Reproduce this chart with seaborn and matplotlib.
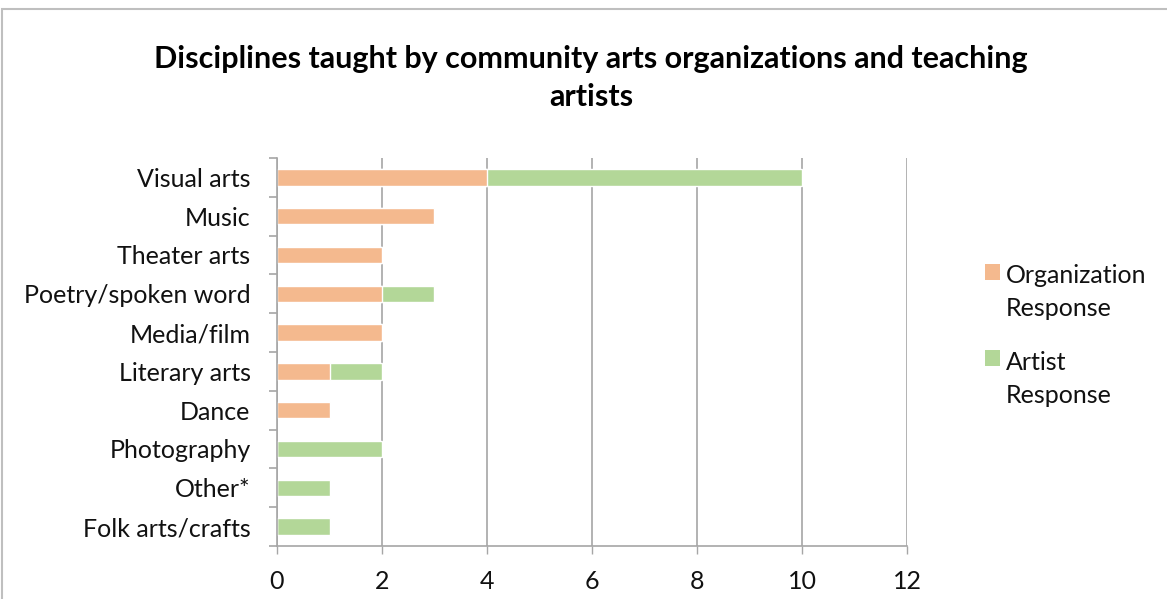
import matplotlib
matplotlib.use("Agg")
import matplotlib.pyplot as plt
import seaborn as sns
import pandas as pd
import numpy as np
from matplotlib.patches import Patch, Rectangle
from matplotlib.legend_handler import HandlerPatch

categories = ["Visual arts", "Music", "Theater arts", "Poetry/spoken word", "Media/film",
              "Literary arts", "Dance", "Photography", "Other*", "Folk arts/crafts"]
org_response = [4, 3, 2, 2, 2, 1, 1, 0, 0, 0]
artist_response = [6, 0, 0, 1, 0, 1, 0, 2, 1, 1]
x_ticks = [0, 2, 4, 6, 8, 10, 12]
title = "Disciplines taught by community arts organizations and teaching\nartists"

ORANGE = "#F4B98E"
GREEN = "#B3D798"
GRID = "#A6A6A6"
TXT = "#111111"

sns.set_theme(style="white")
plt.rcParams['font.family'] = ['Lato', 'DejaVu Sans']
plt.rcParams['text.color'] = TXT
plt.rcParams['xtick.color'] = TXT
plt.rcParams['ytick.color'] = TXT

df = pd.DataFrame({"cat": categories, "org": org_response, "artist": artist_response})
df["total"] = df["org"] + df["artist"]

fig = plt.figure(figsize=(11.67, 5.99), dpi=100)
ax = fig.add_axes([277/1167, 1-546/599, (907-277)/1167, (546-158)/599])

sns.barplot(data=df, x="total", y="cat", color=GREEN, saturation=1, width=0.42, ax=ax, orient="h")
sns.barplot(data=df, x="org", y="cat", color=ORANGE, saturation=1, width=0.42, ax=ax, orient="h")

ax.set_xlim(0, 12)
ax.set_ylim(len(categories) - 0.5, -0.5)
ax.set_xticks(x_ticks)
ax.set_xticklabels([str(t) for t in x_ticks], fontsize=18)
ax.set_yticks(range(len(categories)))
ax.set_yticklabels(categories, fontsize=18)
ax.set_yticks(np.arange(-0.5, len(categories), 1), minor=True)
ax.tick_params(axis="y", which="major", length=0, pad=19)
ax.tick_params(axis="y", which="minor", length=6, color=GRID, width=1.2, left=True)
ax.tick_params(axis="x", which="major", length=6, color=GRID, width=1, bottom=True, pad=11)
ax.set_xlabel("")
ax.set_ylabel("")
ax.grid(axis="x", color=GRID, linewidth=1.2)
ax.set_axisbelow(True)
for s in ["top", "right"]:
    ax.spines[s].set_visible(False)
for s in ["left", "bottom"]:
    ax.spines[s].set_color(GRID)
    ax.spines[s].set_linewidth(1.2)

fig.text(591/1167, 1-78/599, title, ha="center", va="center", fontsize=22,
         fontweight="bold", linespacing=1.45, color="black")


class TopHandler(HandlerPatch):
    def create_artists(self, legend, orig_handle, xdescent, ydescent, width, height,
                       fontsize, trans):
        shift = 0.85 * fontsize
        p = Rectangle((-xdescent, -ydescent + shift), width, height,
                      facecolor=orig_handle.get_facecolor(), edgecolor="none",
                      transform=trans)
        return [p]


handles = [Patch(facecolor=ORANGE, label="Organization\nResponse"),
           Patch(facecolor=GREEN, label="Artist\nResponse")]
leg = fig.legend(handles=handles, loc="upper left", bbox_to_anchor=(962/1167, 1-242/599),
                 frameon=False, fontsize=18, handlelength=0.6, handleheight=0.6,
                 handletextpad=0.25, labelspacing=1.25,
                 handler_map={Patch: TopHandler()})
for t in leg.get_texts():
    t.set_linespacing(1.5)
    t.set_color(TXT)

fig.patches.append(Rectangle((2/1167, -0.1), 1.2, 1-9/599+0.1, transform=fig.transFigure,
                             fill=False, edgecolor="#BFBFBF", linewidth=1.5))

fig.savefig("out.png", dpi=100)
